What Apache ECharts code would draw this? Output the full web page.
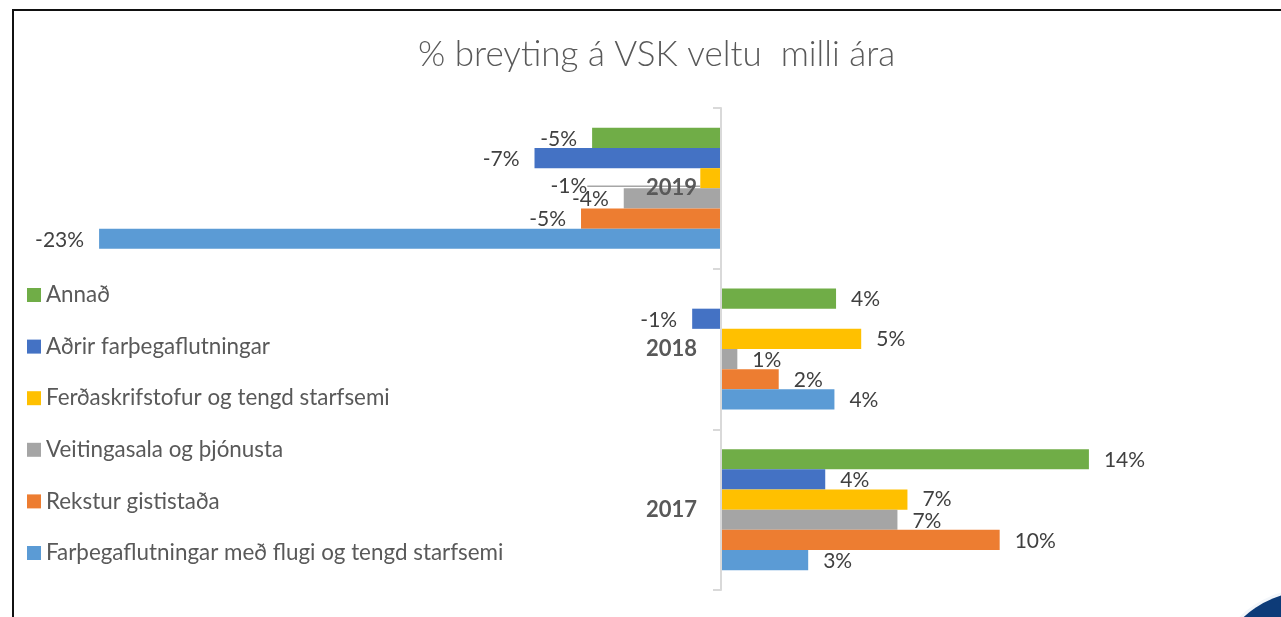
<!DOCTYPE html>
<html>
<head>
<meta charset="utf-8">
<script src="https://cdn.jsdelivr.net/npm/echarts@6/dist/echarts.min.js"></script>
<style>
html,body{margin:0;padding:0;background:#fff;}
#main{width:1281px;height:617px;}
</style>
</head>
<body>
<div id="main"></div>
<script>
const titleText = '% breyting á VSK veltu  milli ára';
const years = ['2017', '2018', '2019'];
// series listed top-to-bottom within each year group (same as legend)
const seriesNames = [
  'Annað',
  'Aðrir farþegaflutningar',
  'Ferðaskrifstofur og tengd starfsemi',
  'Veitingasala og þjónusta',
  'Rekstur gististaða',
  'Farþegaflutningar með flugi og tengd starfsemi'
];
const colors = ['#70ad47', '#4472c4', '#ffc000', '#a5a5a5', '#ed7d31', '#5b9bd5'];
// values per series: [2017, 2018, 2019]
const annadValues = [13.6, 4.25, -4.77];
const adrirValues = [3.85, -1.07, -6.9];
const ferdaValues = [6.89, 5.18, -0.77];
const veitingarValues = [6.52, 0.6, -3.6];
const gistingValues = [10.3, 2.13, -5.18];
const flugValues = [3.22, 4.19, -23.0];
const allValues = [annadValues, adrirValues, ferdaValues, veitingarValues, gistingValues, flugValues];

const FONT = 'Lato';
const chart = echarts.init(document.getElementById('main'));

const series = seriesNames.map((name, si) => ({
  name: name,
  type: 'bar',
  barGap: '0%',
  barCategoryGap: '24.7%',
  itemStyle: { color: colors[si] },
  data: allValues[si].map((v, di) => {
    const item = {
      value: v,
      label: { position: v < 0 ? 'left' : 'right' }
    };
    if (si === 2 && di === 2) {
      item.labelLine = { show: true, lineStyle: { color: '#a6a6a6', width: 1.5 } };
    }
    return item;
  }),
  label: {
    show: true,
    distance: 15,
    color: '#404040',
    fontFamily: FONT,
    fontSize: 21,
    offset: [0, 1],
    formatter: p => Math.round(p.value) + '%'
  },
  labelLine: { show: false },
  labelLayout: (si === 2) ? function (p) {
    if (p.dataIndex === 2) return { dx: -98, dy: 8 };
    return {};
  } : undefined
}));

chart.setOption({
  animation: false,
  backgroundColor: '#fff',
  title: {
    text: titleText,
    left: 413,
    top: 32,
    textStyle: { fontFamily: FONT, fontSize: 35, fontWeight: 300, color: '#595959' }
  },
  legend: {
    data: seriesNames,
    orient: 'vertical',
    left: 27,
    top: 284,
    padding: 0,
    itemWidth: 14,
    itemHeight: 14,
    itemGap: 29.6,
    icon: 'rect',
    textStyle: { fontFamily: FONT, fontSize: 22.4, color: '#595959', lineHeight: 22 }
  },
  grid: { left: 45, right: 19, top: 108, bottom: 27, containLabel: false, outerBoundsMode: 'none' },
  xAxis: {
    type: 'value',
    min: -25,
    max: 20,
    show: false,
    splitLine: { show: false }
  },
  yAxis: {
    type: 'category',
    data: years,
    z: 5,
    offset: -676,
    axisLine: { show: true, onZero: false, lineStyle: { color: '#d9d9d9', width: 2 } },
    axisTick: { show: true, length: 8, lineStyle: { color: '#d9d9d9', width: 2 } },
    axisLabel: { margin: 24, fontFamily: FONT, fontSize: 22, fontWeight: 'bold', color: '#595959', padding: [3, 0, 0, 0] }
  },
  graphic: [
    { type: 'polyline', silent: true, shape: { points: [[13, 617], [13, 10], [1281, 10]] }, style: { stroke: '#111', lineWidth: 2, fill: null } },
    { type: 'circle', silent: true, shape: { cx: 1311, cy: 691, r: 103 }, style: { fill: '#f3f6fa' } },
    { type: 'circle', silent: true, shape: { cx: 1311, cy: 691, r: 100 }, style: { fill: '#0d3b78' } }
  ],
  series: series
});
</script>
</body>
</html>
